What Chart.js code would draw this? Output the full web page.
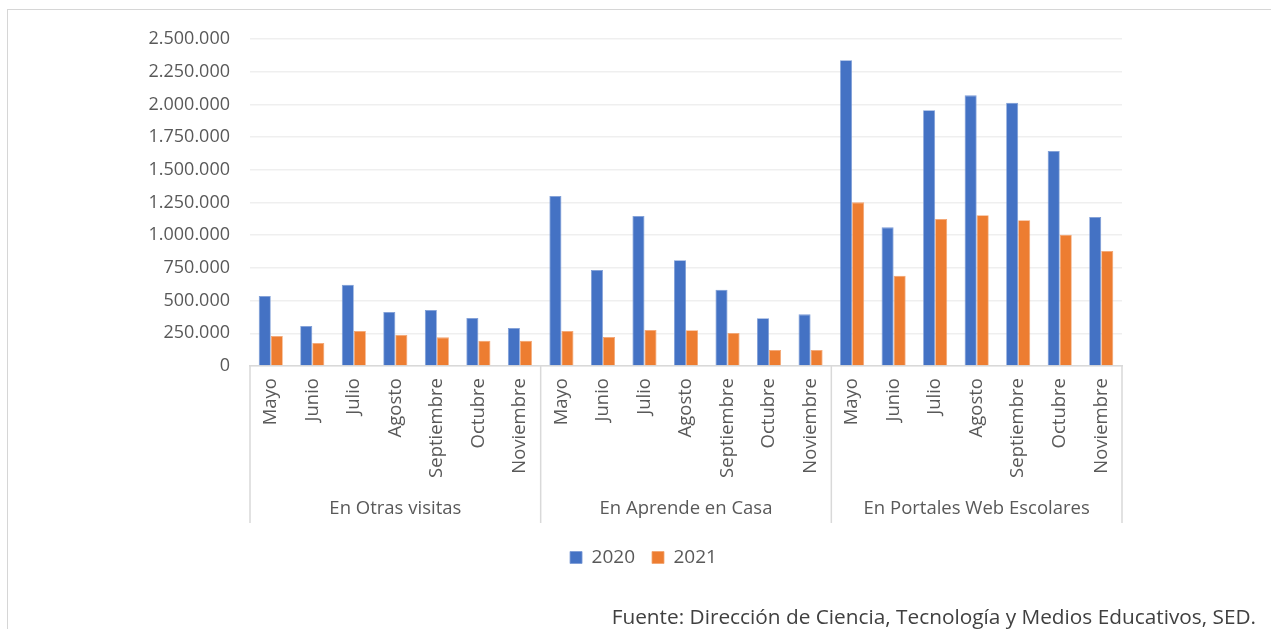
<!DOCTYPE html>
<html>
<head>
<meta charset="utf-8">
<script src="https://cdn.jsdelivr.net/npm/chart.js@4.4.1/dist/chart.umd.min.js"></script>
<style>
    body { margin: 0; background: #fff; font-family: "Open Sans", sans-serif; }
    #wrap { position: relative; width: 1271px; height: 629px; overflow: hidden; }
    #frame { position: absolute; left: 7px; top: 9px; width: 1300px; height: 700px;
             border-top: 1.5px solid #d6d6d6; border-left: 1.5px solid #d6d6d6; }
    #chartBox { position: absolute; left: 0; top: 0; width: 1271px; height: 629px; }
    #source { position: absolute; right: 15px; top: 601px; font-size: 20.8px; line-height: 30px; color: #404040; white-space: nowrap; }
</style>
</head>
<body>
<div id="wrap">
    <div id="frame"></div>
    <div id="chartBox"><canvas id="visitsChart"></canvas></div>
    <div id="source">Fuente: Dirección de Ciencia, Tecnología y Medios Educativos, SED.</div>
</div>
<script>
const months = ["Mayo", "Junio", "Julio", "Agosto", "Septiembre", "Octubre", "Noviembre"];
const groups = ["En Otras visitas", "En Aprende en Casa", "En Portales Web Escolares"];

const visits2020 = [
    535000, 306000, 622000, 413000, 428000, 367000, 290000,
    1300000, 734000, 1147000, 808000, 583000, 365000, 395000,
    2337000, 1060000, 1955000, 2069000, 2013000, 1644000, 1139000
];

const visits2021 = [
    229000, 176000, 268000, 237000, 219000, 193000, 193000,
    268000, 222000, 275000, 273000, 252000, 122000, 122000,
    1251000, 690000, 1124000, 1152000, 1114000, 1004000, 879000
];

const yTicks = [0, 250000, 500000, 750000, 1000000, 1250000, 1500000, 1750000, 2000000, 2250000, 2500000];

const labels = [];
groups.forEach(() => months.forEach(m => labels.push(m)));

function formatThousands(v) {
    return String(v).replace(/\B(?=(\d{3})+(?!\d))/g, ".");
}

const textColor = "#595959";
const lineColor = "#d9d9d9";

// separators and group names under the month labels
const groupAxisPlugin = {
    id: "groupAxis",
    afterDraw(chart) {
        const ctx = chart.ctx;
        const xs = chart.scales.x;
        const step = xs.getPixelForValue(1) - xs.getPixelForValue(0);
        const top = chart.chartArea.bottom;
        const bottom = xs.bottom - 8;

        ctx.save();
        ctx.strokeStyle = lineColor;
        ctx.lineWidth = 1.5;
        ctx.fillStyle = textColor;
        ctx.font = "18.5px 'Open Sans'";
        ctx.textAlign = "center";
        ctx.textBaseline = "middle";

        for (let g = 0; g <= groups.length; g++) {
            const x = xs.getPixelForValue(g * months.length) - step / 2;
            ctx.beginPath();
            ctx.moveTo(x, top);
            ctx.lineTo(x, bottom);
            ctx.stroke();
        }

        groups.forEach((name, g) => {
            const a = xs.getPixelForValue(g * months.length) - step / 2;
            const b = xs.getPixelForValue(g * months.length + months.length - 1) + step / 2;
            ctx.fillText(name, (a + b) / 2, bottom - 14);
        });

        ctx.restore();
    }
};

const ctx = document.getElementById("visitsChart").getContext("2d");

new Chart(ctx, {
    type: "bar",
    data: {
        labels: labels,
        datasets: [
            {
                label: "2020",
                data: visits2020,
                backgroundColor: "#4472C4",
                borderColor: "#7b9bd6",
                borderWidth: 0.8
            },
            {
                label: "2021",
                data: visits2021,
                backgroundColor: "#ED7D31",
                borderColor: "#f3a470",
                borderWidth: 0.8
            }
        ]
    },
    plugins: [groupAxisPlugin],
    options: {
        responsive: true,
        maintainAspectRatio: false,
        animation: false,
        categoryPercentage: 0.58,
        barPercentage: 1,
        layout: {
            padding: { top: 39, left: 16, right: 0, bottom: 52 }
        },
        plugins: {
            legend: {
                position: "bottom",
                labels: {
                    color: textColor,
                    font: { family: "'Open Sans'", size: 19 },
                    boxWidth: 12,
                    boxHeight: 12,
                    padding: 17
                }
            },
            tooltip: { enabled: false }
        },
        scales: {
            y: {
                min: 0,
                max: 2500000,
                afterBuildTicks(scale) {
                    scale.ticks = yTicks.map(v => ({ value: v }));
                },
                afterFit(scale) {
                    scale.width = 234;
                },
                grid: {
                    color: "#efefef",
                    lineWidth: 1.5,
                    drawTicks: false
                },
                border: { display: false },
                ticks: {
                    color: textColor,
                    padding: 20,
                    font: { family: "'Open Sans'", size: 18 },
                    callback: v => formatThousands(v)
                }
            },
            // empty right-hand space of the frame
            yRight: {
                position: "right",
                afterFit(scale) {
                    scale.width = 149;
                },
                grid: { drawOnChartArea: false, drawTicks: false },
                border: { display: false },
                ticks: { display: false }
            },
            x: {
                afterFit(scale) {
                    scale.height = 165;
                },
                grid: { display: false, drawTicks: false },
                border: { display: true, color: lineColor, width: 1.5 },
                ticks: {
                    color: textColor,
                    padding: 12,
                    minRotation: 90,
                    maxRotation: 90,
                    autoSkip: false,
                    font: { family: "'Open Sans'", size: 18.5 }
                }
            }
        }
    }
});
</script>
</body>
</html>
